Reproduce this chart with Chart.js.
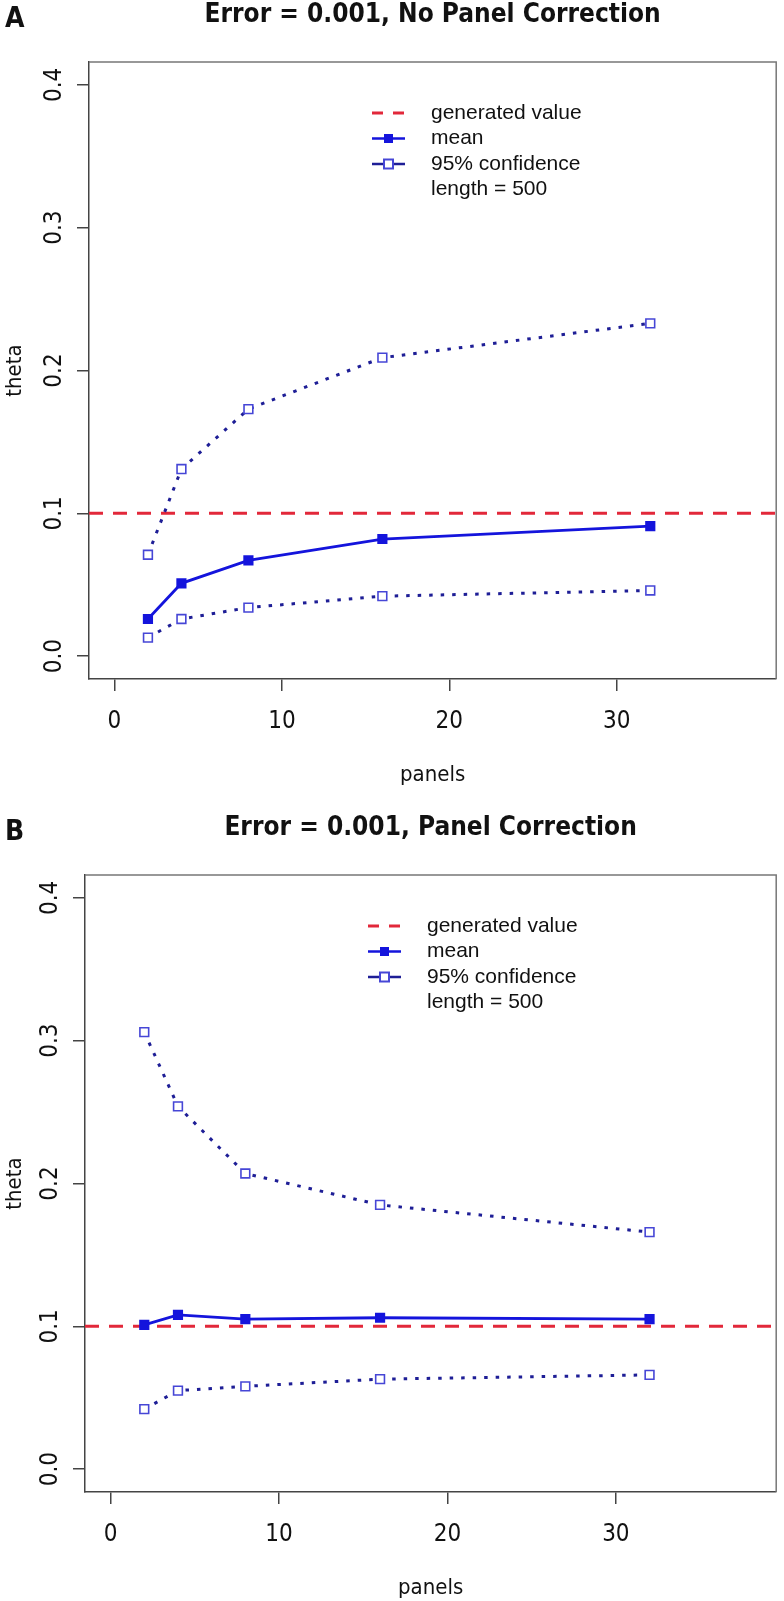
<!DOCTYPE html>
<html lang="en">
<head>
  <meta charset="UTF-8" />
  <title>Error = 0.001 | theta vs panels</title>
  <script src="https://cdn.jsdelivr.net/npm/chart.js@4.4.1/dist/chart.umd.min.js"></script>
  <style>
    html, body { margin: 0; padding: 0; background: #fff; }
    body { width: 784px; height: 1601px; position: relative; overflow: hidden; }
    .panel { position: absolute; left: 0; width: 784px; height: 788px; }
    .tag {
      position: absolute; left: 5px; top: 1px; z-index: 2; line-height: 1;
      font: bold 28px 'Liberation Sans Narrow', 'DejaVu Sans Condensed', 'Liberation Sans', sans-serif;
      color: #111;
    }
  </style>
</head>
<body>
  <div class="panel" style="top: 0">
    <div class="tag">A</div>
    <canvas id="chartA" width="784" height="788"></canvas>
  </div>
  <div class="panel" style="top: 813px">
    <div class="tag">B</div>
    <canvas id="chartB" width="784" height="788"></canvas>
  </div>

  <script>
    // data
    const panelsX = [2, 4, 8, 16, 32];
    const meanA = [0.026, 0.051, 0.067, 0.082, 0.091];
    const upperA = [0.071, 0.131, 0.173, 0.209, 0.233];
    const lowerA = [0.013, 0.026, 0.034, 0.042, 0.046];
    const meanB = [0.101, 0.108, 0.105, 0.106, 0.105];
    const upperB = [0.306, 0.254, 0.207, 0.185, 0.166];
    const lowerB = [0.042, 0.055, 0.058, 0.063, 0.066];
    const generatedValue = 0.1;

    const xTicks = [0, 10, 20, 30];
    const yTicks = [0, 0.1, 0.2, 0.3, 0.4];
    const xRange = [0, 38];
    const yRange = [0, 0.4];
    const legendRows = ["generated value", "mean", "95% confidence", "length = 500"];

    // R style 4% padding around the ranges
    const pad = (r) => [r[0] - 0.04 * (r[1] - r[0]), r[1] + 0.04 * (r[1] - r[0])];
    const [xMin, xMax] = pad(xRange);
    const [yMin, yMax] = pad(yRange);

    const NARROW = "'Liberation Sans Narrow', 'DejaVu Sans Condensed', 'Liberation Sans', sans-serif";
    const SANS = "'Liberation Sans', Arial, sans-serif";
    const RED = "#e2283a";
    const BLUE = "#1414dc";
    const NAVY = "#1e1e96";
    const SQUARE = "#4646d6";

    const toPts = (vals) => vals.map((v, i) => ({ x: panelsX[i], y: v }));

    // box top/right, rotated y labels and the legend, like base R graphics
    const rStyle = {
      id: "rStyle",
      afterDraw(chart) {
        const { ctx, chartArea: a, scales: { y } } = chart;
        ctx.save();
        ctx.strokeStyle = "#777";
        ctx.lineWidth = 1.5;
        ctx.beginPath();
        ctx.moveTo(a.left, a.top);
        ctx.lineTo(a.right, a.top);
        ctx.lineTo(a.right, a.bottom);
        ctx.stroke();

        ctx.fillStyle = "#111";
        ctx.font = "24px " + NARROW;
        ctx.textAlign = "center";
        ctx.textBaseline = "alphabetic";
        y.ticks.forEach((t) => {
          ctx.save();
          ctx.translate(a.left - 28, y.getPixelForValue(t.value));
          ctx.rotate(-Math.PI / 2);
          ctx.fillText(t.value.toFixed(1), 0, 0);
          ctx.restore();
        });

        // legend
        const lx = a.left + 283;
        const tx = lx + 59;
        ctx.font = "21px " + SANS;
        ctx.textAlign = "left";
        ctx.textBaseline = "middle";
        legendRows.forEach((txt, i) => {
          const ry = a.top + 51 + i * 25.5;
          ctx.fillStyle = "#111";
          ctx.fillText(txt, tx, ry);
          if (i === 0) {
            ctx.strokeStyle = RED;
            ctx.lineWidth = 3;
            ctx.setLineDash([11, 10]);
            ctx.beginPath(); ctx.moveTo(lx, ry); ctx.lineTo(lx + 33, ry); ctx.stroke();
            ctx.setLineDash([]);
          } else if (i === 1) {
            ctx.strokeStyle = BLUE;
            ctx.lineWidth = 2.5;
            ctx.beginPath(); ctx.moveTo(lx, ry); ctx.lineTo(lx + 33, ry); ctx.stroke();
            ctx.fillStyle = BLUE;
            ctx.fillRect(lx + 12, ry - 4.5, 9, 9);
          } else if (i === 2) {
            ctx.strokeStyle = NAVY;
            ctx.lineWidth = 2.5;
            ctx.beginPath();
            ctx.moveTo(lx, ry); ctx.lineTo(lx + 11, ry);
            ctx.moveTo(lx + 22, ry); ctx.lineTo(lx + 33, ry);
            ctx.stroke();
            ctx.fillStyle = "#fff";
            ctx.strokeStyle = SQUARE;
            ctx.lineWidth = 2;
            ctx.fillRect(lx + 12, ry - 4.5, 9, 9);
            ctx.strokeRect(lx + 12, ry - 4.5, 9, 9);
          }
        });
        ctx.restore();
      },
    };

    function makePanel(id, title, mean, upper, lower, left, right) {
      const ciStyle = {
        borderColor: NAVY,
        borderWidth: 3,
        borderDash: [3.5, 8],
        pointStyle: "rect",
        pointRadius: 6.2,
        pointBackgroundColor: "#fff",
        pointBorderColor: SQUARE,
        pointBorderWidth: 1.6,
        order: 1,
      };
      return new Chart(document.getElementById(id), {
        type: "line",
        data: {
          datasets: [
            {
              label: "mean",
              data: toPts(mean),
              borderColor: BLUE,
              borderWidth: 2.8,
              pointStyle: "rect",
              pointRadius: 7.2,
              pointBackgroundColor: BLUE,
              pointBorderColor: BLUE,
              pointBorderWidth: 0,
              order: 0,
            },
            Object.assign({ label: "upper", data: toPts(upper) }, ciStyle),
            Object.assign({ label: "lower", data: toPts(lower) }, ciStyle),
            {
              label: "generated value",
              data: [{ x: xMin, y: generatedValue }, { x: xMax, y: generatedValue }],
              borderColor: RED,
              borderWidth: 3,
              borderDash: [14, 10],
              pointRadius: 0,
              order: 2,
            },
          ],
        },
        options: {
          responsive: false,
          animation: false,
          layout: { padding: { left: 0, right: 784 - right, top: 0, bottom: 0 } },
          plugins: {
            legend: { display: false },
            tooltip: { enabled: false },
            title: {
              display: true,
              text: title,
              fullSize: false,
              color: "#111",
              font: { family: NARROW, size: 26, weight: "bold", lineHeight: 1.2 },
              padding: { top: 0, bottom: 30.8 },
            },
          },
          scales: {
            x: {
              type: "linear",
              min: xMin,
              max: xMax,
              afterBuildTicks: (s) => { s.ticks = xTicks.map((v) => ({ value: v })); },
              afterFit: (s) => { s.height = 109; },
              grid: { drawOnChartArea: false, drawTicks: true, tickLength: 12, color: "#444", lineWidth: 1.5 },
              border: { display: true, color: "#444", width: 1.5 },
              ticks: {
                color: "#111",
                padding: 16,
                maxRotation: 0,
                font: { family: NARROW, size: 24, lineHeight: 1.2 },
              },
              title: {
                display: true,
                text: "panels",
                color: "#111",
                font: { family: NARROW, size: 22, lineHeight: 1 },
                padding: { top: 0, bottom: 2 },
              },
            },
            y: {
              type: "linear",
              min: yMin,
              max: yMax,
              afterBuildTicks: (s) => { s.ticks = yTicks.map((v) => ({ value: v })); },
              afterFit: (s) => { s.width = left; },
              grid: { drawOnChartArea: false, drawTicks: true, tickLength: 12, color: "#444", lineWidth: 1.5 },
              border: { display: true, color: "#444", width: 1.5 },
              ticks: { display: false },
              title: {
                display: true,
                text: "theta",
                color: "#111",
                font: { family: NARROW, size: 22, lineHeight: 1 },
                padding: { top: 4, bottom: 0 },
              },
            },
          },
        },
        plugins: [rStyle],
      });
    }

    makePanel("chartA", "Error = 0.001, No Panel Correction", meanA, upperA, lowerA, 89, 781);
    makePanel("chartB", "Error = 0.001, Panel Correction", meanB, upperB, lowerB, 85, 778);
  </script>
</body>
</html>
